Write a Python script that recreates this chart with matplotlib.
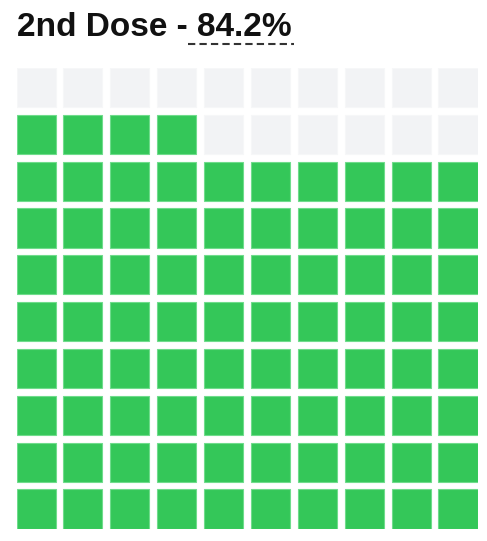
import matplotlib
matplotlib.use('Agg')
import matplotlib.pyplot as plt
from matplotlib.patches import Rectangle

label = '2nd Dose'
pct = 84.2
n_rows = 10
n_cols = 10
filled = int(round(pct))

green = '#34c759'
empty = '#f2f3f5'

W, H = 487, 541
fig = plt.figure(figsize=(W / 100, H / 100), dpi=100)

# grid axes in pixel-ish layout
left, right, top, bottom = 16.5, 477.5, 68, 528.5
ax = fig.add_axes([left / W, 1 - bottom / H, (right - left) / W, (bottom - top) / H])
ax.set_xlim(0, n_cols)
ax.set_ylim(0, n_rows)
ax.axis('off')

gap = 0.17
size = (n_cols - gap * (n_cols - 1)) / n_cols
pitch = size + gap
for i in range(n_rows * n_cols):
    r = i // n_cols  # row from bottom
    c = i % n_cols
    col = green if i < filled else empty
    ec = '#6fdc8c' if i < filled else '#f6f7f8'
    ax.add_patch(Rectangle((c * pitch, r * pitch), size, size,
                           facecolor=col, edgecolor=ec, linewidth=0.8))

font = dict(fontsize=24, fontweight='bold', family='Liberation Sans',
            ha='left', va='baseline', color='#111111')
t1 = fig.text(17 / W, 1 - 35.5 / H, label + ' - ', **font)
fig.canvas.draw()
rend = fig.canvas.get_renderer()
bb = t1.get_window_extent(rend)
t2 = fig.text(bb.x1 / W, 1 - 35.5 / H, f'{pct}%', **font)
fig.canvas.draw()
bb2 = t2.get_window_extent(rend)
y_line = 1 - 43.5 / H
fig.add_artist(plt.Line2D([(bb2.x0 - 9) / W, (bb2.x1 + 2) / W], [y_line, y_line],
                          color='#333333', linewidth=1.5, linestyle=(0, (3.5, 2))))

fig.savefig('out.png', dpi=100)
